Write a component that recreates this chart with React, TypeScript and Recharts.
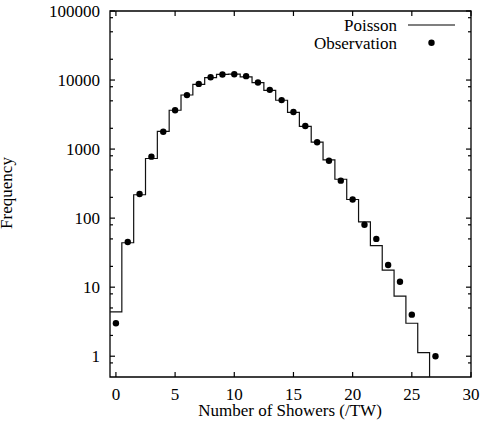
import React from "react";
import {
  ComposedChart,
  Line,
  Scatter,
  XAxis,
  YAxis,
  ReferenceArea,
  Legend,
} from "recharts";

// number of showers per time window (bins)
const showers = [
  0, 1, 2, 3, 4, 5, 6, 7, 8, 9, 10, 11, 12, 13, 14, 15, 16, 17, 18, 19, 20,
  21, 22, 23, 24, 25, 26, 27,
];
// Poisson expectation
const poissonFit = [
  4.4, 44, 218, 730, 1810, 3650, 6070, 8680, 10850, 12100, 12150, 11100, 9200,
  7100, 5100, 3400, 2130, 1260, 700, 366, 186, 88, 40, 17.6, 7.4, 3.0, 1.13,
  0.4,
];
// observed counts (none drawn at 26)
const observed = [
  3, 45, 224, 777, 1780, 3660, 6050, 8800, 11000, 12050, 12150, 11380, 9230,
  7210, 5120, 3440, 2158, 1253, 679, 349, 186, 80, 50, 21, 12, 4, null, 1,
];

const xTicks = [0, 5, 10, 15, 20, 25, 30];
const yTicks = [
  0.8, 1, 2, 5, 8, 10, 20, 50, 80, 100, 200, 500, 800, 1000, 2000, 5000, 8000,
  10000, 20000, 50000, 80000, 100000,
];
const yLabelTicks = [1, 10, 100, 1000, 10000, 100000];

const FONT = "'Liberation Serif', 'Times New Roman', serif";
const LEFT = 110;
const RIGHT = 471;
const TOP = 11;
const BOTTOM = 377;

const stepData = showers.map((n, i) => ({ x: n - 0.5, y: poissonFit[i] }));
const obsData = showers
  .map((n, i) => ({ x: n, y: observed[i] }))
  .filter((d) => d.y !== null);

const XTick = (props: any) => {
  const { x, payload } = props;
  return (
    <g>
      <line x1={x} x2={x} y1={BOTTOM} y2={BOTTOM - 5} stroke="#000" strokeWidth={1.2} />
      <line x1={x} x2={x} y1={TOP} y2={TOP + 5} stroke="#000" strokeWidth={1.2} />
      <text x={x} y={400} textAnchor="middle" fontFamily={FONT} fontSize={17} fill="#000">
        {payload.value}
      </text>
    </g>
  );
};

const YTick = (props: any) => {
  const { y, payload } = props;
  const major = yLabelTicks.includes(payload.value);
  const len = major ? 5 : 3;
  return (
    <g>
      <line x1={LEFT} x2={LEFT + len} y1={y} y2={y} stroke="#000" strokeWidth={1.2} />
      <line x1={RIGHT - len} x2={RIGHT} y1={y} y2={y} stroke="#000" strokeWidth={1.2} />
      {major && (
        <text x={100} y={y} dy="0.35em" textAnchor="end" fontFamily={FONT} fontSize={17} fill="#000">
          {payload.value}
        </text>
      )}
    </g>
  );
};

const renderLegend = () => (
  <svg width={481} height={60} style={{ display: "block" }}>
    <text x={397} y={30.5} textAnchor="end" fontFamily={FONT} fontSize={17} fill="#000">
      Poisson
    </text>
    <line x1={408} x2={455} y1={25} y2={25} stroke="#000" strokeWidth={1.2} />
    <text x={397} y={48.5} textAnchor="end" fontFamily={FONT} fontSize={17} fill="#000">
      Observation
    </text>
    <circle cx={431.5} cy={42.7} r={3.2} fill="#000" />
  </svg>
);

export default function App() {
  return (
    <div style={{ position: "absolute", left: 0, top: 0, background: "#fff" }}>
      <ComposedChart
        width={481}
        height={424}
        margin={{ top: TOP, right: 481 - RIGHT, bottom: 0, left: 0 }}
        style={{ fontFamily: FONT }}
      >
        <XAxis
          dataKey="x"
          type="number"
          domain={[-0.5, 30]}
          ticks={xTicks}
          interval={0}
          allowDataOverflow
          height={424 - BOTTOM}
          axisLine={false}
          tickLine={false}
          tick={<XTick />}
          label={() => (
            <text x={290} y={416} textAnchor="middle" fontFamily={FONT} fontSize={17} fill="#000">
              Number of Showers (/TW)
            </text>
          )}
        />
        <YAxis
          type="number"
          scale="log"
          domain={[0.5, 100000]}
          ticks={yTicks}
          interval={0}
          allowDataOverflow
          width={LEFT}
          axisLine={false}
          tickLine={false}
          tick={<YTick />}
          label={() => (
            <text
              x={12}
              y={193}
              transform="rotate(-90, 12, 193)"
              textAnchor="middle"
              fontFamily={FONT}
              fontSize={17}
              fill="#000"
            >
              Frequency
            </text>
          )}
        />
        <ReferenceArea
          x1={-0.5}
          x2={30}
          y1={0.5}
          y2={100000}
          fill="none"
          stroke="#000"
          strokeWidth={1.3}
        />
        <Line
          data={stepData}
          dataKey="y"
          type="stepAfter"
          stroke="#111"
          strokeWidth={1.2}
          dot={false}
          activeDot={false}
          isAnimationActive={false}
          legendType="line"
          name="Poisson"
        />
        <Scatter
          data={obsData}
          dataKey="y"
          fill="#000"
          isAnimationActive={false}
          name="Observation"
          shape={(p: any) => <circle cx={p.cx} cy={p.cy} r={3.2} fill="#000" />}
        />
        <Legend
          layout="vertical"
          align="center"
          verticalAlign="middle"
          wrapperStyle={{ top: 0, left: 0, width: 481, height: 60 }}
          content={renderLegend}
        />
      </ComposedChart>
    </div>
  );
}
